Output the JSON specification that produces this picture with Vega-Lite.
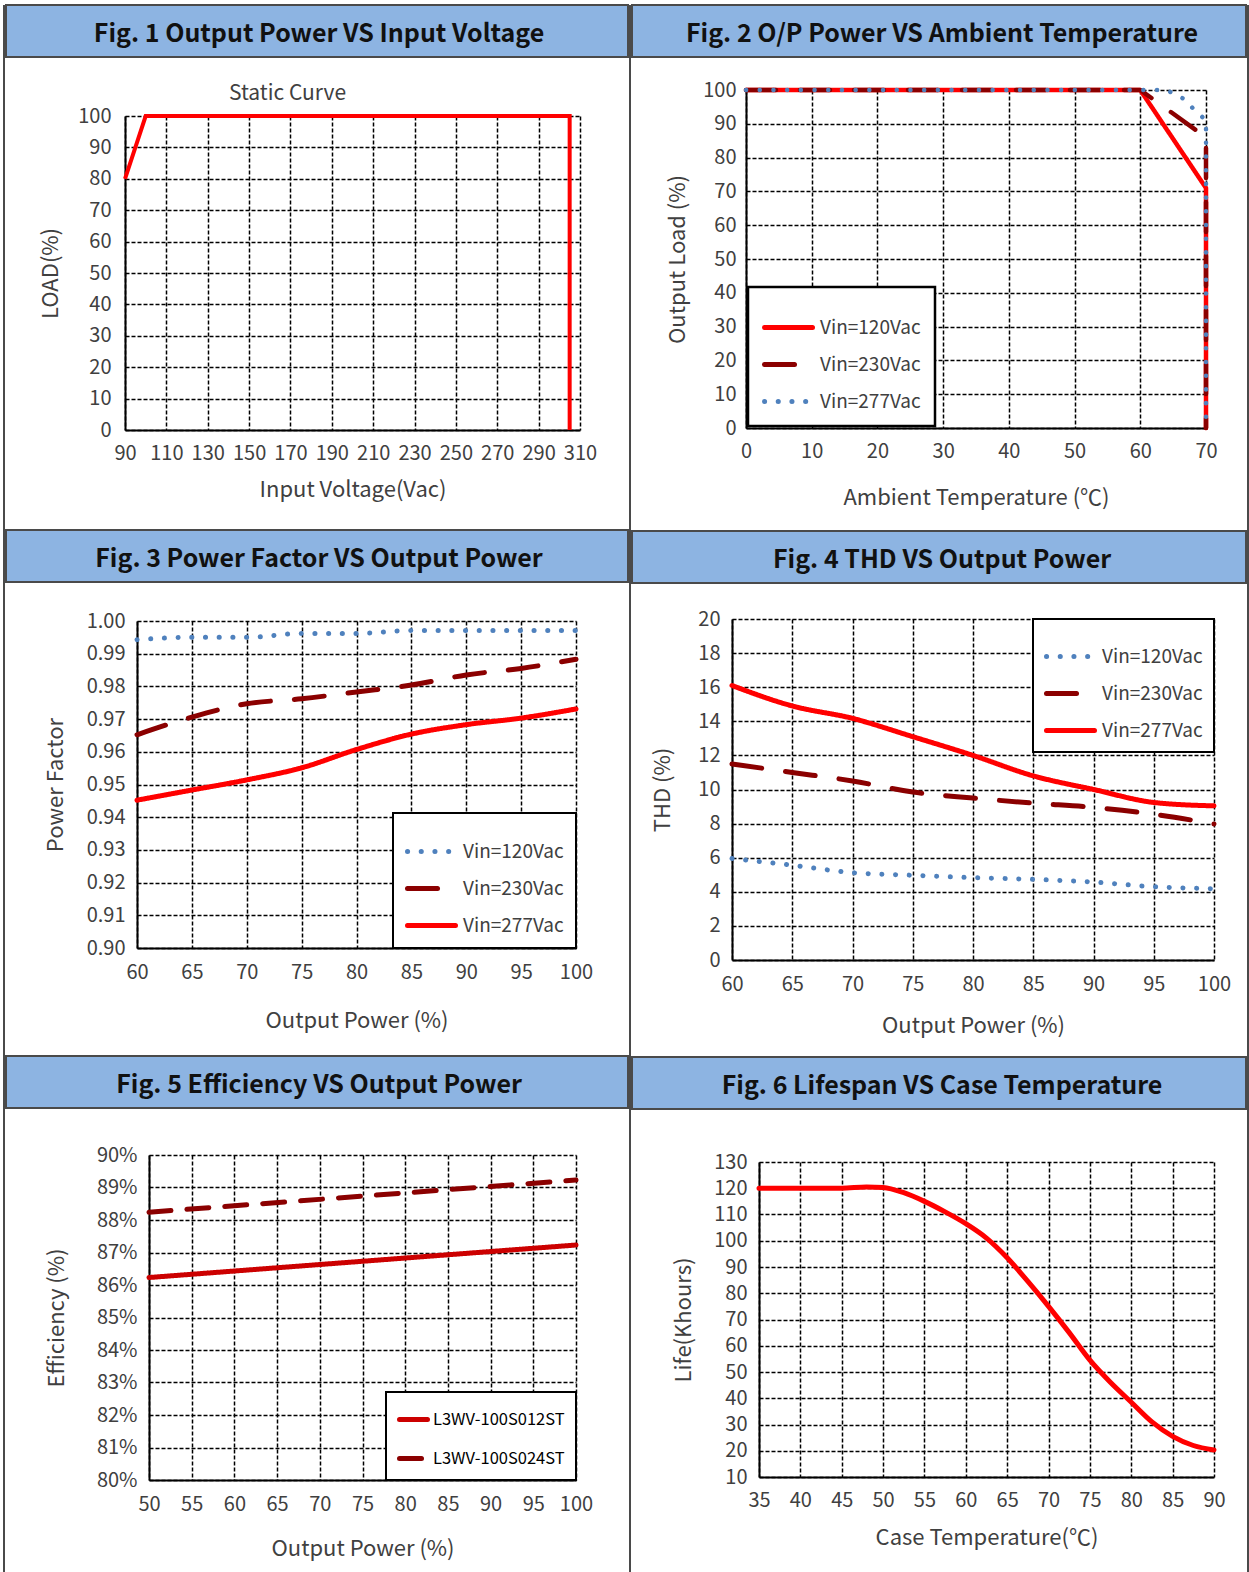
{
  "$schema": "https://vega.github.io/schema/vega-lite/v6.json",
  "background": "white",
  "padding": {"left": 3, "top": 4, "right": 0, "bottom": 0},
  "spacing": 0,
  "resolve": {"scale": {"color": "independent", "strokeDash": "independent", "x": "independent", "y": "independent"}, "legend": {"color": "independent", "strokeDash": "independent"}},
  "config": {
    "font": "Noto Sans CJK SC",
    "view": {"stroke": null},
    "axis": {
      "labelFontSize": 20, "labelColor": "#404040", "labelFont": "Noto Sans CJK SC",
      "titleFontSize": 22, "titleFontWeight": "normal", "titleColor": "#404040", "titleFont": "Noto Sans CJK SC",
      "grid": true, "gridColor": "#000000", "gridDash": [4, 2], "gridWidth": 1.5, "gridOpacity": 1,
      "domainColor": "#000000", "domainWidth": 2,
      "ticks": false, "labelPadding": 12, "labelFlush": false, "labelOverlap": false
    },
    "legend": {
      "title": null, "strokeColor": "#000000", "fillColor": "#ffffff", "padding": 14, "rowPadding": 0,
      "labelFontSize": 19, "labelColor": "#404040", "labelFont": "Noto Sans CJK SC",
      "symbolType": "stroke", "symbolSize": 2304, "symbolStrokeWidth": 5, "labelOffset": 5, "offset": 0
    },
    "title": {"color": "#404040", "fontWeight": "normal"}
  },
  "hconcat": [
    {
      "width": 2, "height": 1568,
      "data": {"values": [{}]},
      "mark": {"type": "rect", "color": "#4a4a4a"},
      "encoding": {}
    },
    {
      "concat": [
        {
          "width": 622, "height": 52,
          "view": {"fill": "#8DB4E2", "stroke": "#4a4a4a", "strokeWidth": 2},
          "data": {"values": [{"t": "Fig. 1 Output Power VS Input Voltage"}]},
          "mark": {"type": "text", "fontWeight": "bold", "fontSize": 25, "color": "#111111", "dx": 2, "dy": 3},
          "encoding": {"text": {"field": "t"}}
        },
        {
          "spacing": 32,
          "resolve": {"scale": {"color": "independent", "strokeDash": "independent", "x": "independent", "y": "independent"}, "legend": {"color": "independent", "strokeDash": "independent"}},
          "hconcat": [
            {"width": 1, "height": 1, "data": {"values": [{}]}, "mark": {"type": "rect", "opacity": 0}, "encoding": {}},
            {
              "width": 455, "height": 314,
              "title": {"text": [" ", "Static Curve"], "lineHeight": 25, "fontSize": 21, "frame": "group", "dx": -65, "offset": 2},
              "data": {"values": [
                {"i": 0, "v": 90, "l": 80}, {"i": 1, "v": 100, "l": 100}, {"i": 2, "v": 305, "l": 100}, {"i": 3, "v": 305, "l": 0}
              ]},
              "mark": {"type": "line", "color": "#FF0000", "strokeWidth": 4},
              "encoding": {
                "x": {"field": "v", "type": "quantitative", "scale": {"domain": [90, 310], "nice": false, "zero": false},
                      "axis": {"values": [90, 110, 130, 150, 170, 190, 210, 230, 250, 270, 290, 310], "title": ["Input Voltage(Vac)", " "], "titleLineHeight": 29, "titlePadding": 16, "labelPadding": 13}},
                "y": {"field": "l", "type": "quantitative", "scale": {"domain": [0, 100], "nice": false},
                      "axis": {"values": [0, 10, 20, 30, 40, 50, 60, 70, 80, 90, 100], "title": "LOAD(%)", "titlePadding": 15, "labelPadding": 14}},
                "order": {"field": "i", "type": "quantitative"}
              }
            }
          ]
        },
        {
          "width": 622, "height": 52,
          "view": {"fill": "#8DB4E2", "stroke": "#4a4a4a", "strokeWidth": 2},
          "data": {"values": [{"t": "Fig. 3 Power Factor VS Output Power"}]},
          "mark": {"type": "text", "fontWeight": "bold", "fontSize": 25, "color": "#111111", "dx": 2, "dy": 3},
          "encoding": {"text": {"field": "t"}}
        },
        {
          "spacing": 37,
          "resolve": {"scale": {"color": "independent", "strokeDash": "independent", "x": "independent", "y": "independent"}, "legend": {"color": "independent", "strokeDash": "independent"}},
          "hconcat": [
            {"width": 1, "height": 1, "data": {"values": [{}]}, "mark": {"type": "rect", "opacity": 0}, "encoding": {}},
            {
              "width": 439, "height": 327,
              "title": {"text": " ", "fontSize": 1, "offset": 27},
              "data": {"values": [
                {"s": "Vin=120Vac", "p": 60, "v": 0.9943}, {"s": "Vin=120Vac", "p": 65, "v": 0.995}, {"s": "Vin=120Vac", "p": 70, "v": 0.995}, {"s": "Vin=120Vac", "p": 75, "v": 0.9962}, {"s": "Vin=120Vac", "p": 80, "v": 0.9962}, {"s": "Vin=120Vac", "p": 85, "v": 0.9971}, {"s": "Vin=120Vac", "p": 90, "v": 0.9971}, {"s": "Vin=120Vac", "p": 95, "v": 0.9971}, {"s": "Vin=120Vac", "p": 100, "v": 0.9971},
                {"s": "Vin=230Vac", "p": 60, "v": 0.9652}, {"s": "Vin=230Vac", "p": 65, "v": 0.9706}, {"s": "Vin=230Vac", "p": 70, "v": 0.9747}, {"s": "Vin=230Vac", "p": 75, "v": 0.9762}, {"s": "Vin=230Vac", "p": 80, "v": 0.9783}, {"s": "Vin=230Vac", "p": 85, "v": 0.9804}, {"s": "Vin=230Vac", "p": 90, "v": 0.9835}, {"s": "Vin=230Vac", "p": 95, "v": 0.9855}, {"s": "Vin=230Vac", "p": 100, "v": 0.9883},
                {"s": "Vin=277Vac", "p": 60, "v": 0.9452}, {"s": "Vin=277Vac", "p": 65, "v": 0.9483}, {"s": "Vin=277Vac", "p": 70, "v": 0.9514}, {"s": "Vin=277Vac", "p": 75, "v": 0.9551}, {"s": "Vin=277Vac", "p": 80, "v": 0.9607}, {"s": "Vin=277Vac", "p": 85, "v": 0.9654}, {"s": "Vin=277Vac", "p": 90, "v": 0.9683}, {"s": "Vin=277Vac", "p": 95, "v": 0.9703}, {"s": "Vin=277Vac", "p": 100, "v": 0.9731}
              ]},
              "mark": {"type": "line", "strokeWidth": 5, "strokeCap": "round", "strokeJoin": "round", "interpolate": "monotone"},
              "encoding": {
                "x": {"field": "p", "type": "quantitative", "scale": {"domain": [60, 100], "nice": false, "zero": false},
                      "axis": {"values": [60, 65, 70, 75, 80, 85, 90, 95, 100], "title": ["Output Power (%)", " "], "titleLineHeight": 24, "titlePadding": 28, "labelPadding": 14}},
                "y": {"field": "v", "type": "quantitative", "scale": {"domain": [0.9, 1.0], "nice": false, "zero": false},
                      "axis": {"values": [0.9, 0.91, 0.92, 0.93, 0.94, 0.95, 0.96, 0.97, 0.98, 0.99, 1.0], "format": ".2f", "title": "Power Factor", "titlePadding": 19, "labelPadding": 12}},
                "color": {"field": "s", "type": "nominal", "scale": {"domain": ["Vin=120Vac", "Vin=230Vac", "Vin=277Vac"], "range": ["#4F81BD", "#8B0000", "#FF0000"]},
                          "legend": {"orient": "bottom-right", "padding": 12, "rowPadding": -1, "encode": {"symbols": {"update": {"strokeCap": {"value": "round"}}}, "legend": {"update": {"strokeWidth": {"value": 2}}}}}},
                "strokeDash": {"field": "s", "type": "nominal", "scale": {"domain": ["Vin=120Vac", "Vin=230Vac", "Vin=277Vac"], "range": [[0.1, 13.6], [30, 24], [1, 0]]}}
              }
            }
          ]
        },
        {
          "width": 622, "height": 52,
          "view": {"fill": "#8DB4E2", "stroke": "#4a4a4a", "strokeWidth": 2},
          "data": {"values": [{"t": "Fig. 5 Efficiency VS Output Power"}]},
          "mark": {"type": "text", "fontWeight": "bold", "fontSize": 25, "color": "#111111", "dx": 2, "dy": 3},
          "encoding": {"text": {"field": "t"}}
        },
        {
          "spacing": 38,
          "resolve": {"scale": {"color": "independent", "strokeDash": "independent", "x": "independent", "y": "independent"}, "legend": {"color": "independent", "strokeDash": "independent"}},
          "hconcat": [
            {"width": 1, "height": 1, "data": {"values": [{}]}, "mark": {"type": "rect", "opacity": 0}, "encoding": {}},
            {
              "width": 427, "height": 325,
              "title": {"text": " ", "fontSize": 1, "offset": 35},
              "data": {"values": [
                {"s": "L3WV-100S012ST", "p": 50, "v": 86.23}, {"s": "L3WV-100S012ST", "p": 100, "v": 87.23},
                {"s": "L3WV-100S024ST", "p": 50, "v": 88.24}, {"s": "L3WV-100S024ST", "p": 100, "v": 89.23}
              ]},
              "mark": {"type": "line", "strokeWidth": 5, "strokeCap": "round", "strokeJoin": "round"},
              "encoding": {
                "x": {"field": "p", "type": "quantitative", "scale": {"domain": [50, 100], "nice": false, "zero": false},
                      "axis": {"values": [50, 55, 60, 65, 70, 75, 80, 85, 90, 95, 100], "title": "Output Power (%)", "titlePadding": 24, "labelPadding": 14}},
                "y": {"field": "v", "type": "quantitative", "scale": {"domain": [80, 90], "nice": false, "zero": false},
                      "axis": {"values": [80, 81, 82, 83, 84, 85, 86, 87, 88, 89, 90], "labelExpr": "datum.value + '%'", "title": "Efficiency (%)", "titlePadding": 28, "labelPadding": 12}},
                "color": {"field": "s", "type": "nominal", "scale": {"domain": ["L3WV-100S012ST", "L3WV-100S024ST"], "range": ["#CC0000", "#8B0000"]},
                          "legend": {"orient": "bottom-right", "padding": 11, "rowPadding": 12, "symbolSize": 784, "labelFontSize": 16.5, "labelColor": "#000000", "labelOffset": 3,
                                     "encode": {"symbols": {"update": {"strokeCap": {"value": "round"}}}, "legend": {"update": {"strokeWidth": {"value": 2}}}}}},
                "strokeDash": {"field": "s", "type": "nominal", "scale": {"domain": ["L3WV-100S012ST", "L3WV-100S024ST"], "range": [[1, 0], [22, 16]]}}
              }
            }
          ]
        }
      ],
      "columns": 1,
      "spacing": 0,
      "resolve": {"scale": {"color": "independent", "strokeDash": "independent", "x": "independent", "y": "independent"}, "legend": {"color": "independent", "strokeDash": "independent"}}
    },
    {
      "width": 2, "height": 1568,
      "data": {"values": [{}]},
      "mark": {"type": "rect", "color": "#4a4a4a"},
      "encoding": {}
    },
    {
      "concat": [
        {
          "width": 614, "height": 52,
          "view": {"fill": "#8DB4E2", "stroke": "#4a4a4a", "strokeWidth": 2},
          "data": {"values": [{"t": "Fig. 2 O/P Power VS Ambient Temperature"}]},
          "mark": {"type": "text", "fontWeight": "bold", "fontSize": 25, "color": "#111111", "dx": 3, "dy": 3},
          "encoding": {"text": {"field": "t"}}
        },
        {
          "spacing": 33,
          "resolve": {"scale": {"color": "independent", "strokeDash": "independent", "x": "independent", "y": "independent"}, "legend": {"color": "independent", "strokeDash": "independent"}},
          "hconcat": [
            {"width": 1, "height": 1, "data": {"values": [{}]}, "mark": {"type": "rect", "opacity": 0}, "encoding": {}},
            {
              "width": 460, "height": 338,
              "title": {"text": " ", "fontSize": 1, "offset": 21},
              "data": {"values": [
                {"s": "Vin=120Vac", "i": 0, "t": 0, "l": 100}, {"s": "Vin=120Vac", "i": 1, "t": 60, "l": 100}, {"s": "Vin=120Vac", "i": 2, "t": 70, "l": 71}, {"s": "Vin=120Vac", "i": 3, "t": 70, "l": 0},
                {"s": "Vin=230Vac", "i": 0, "t": 0, "l": 100}, {"s": "Vin=230Vac", "i": 1, "t": 60, "l": 100}, {"s": "Vin=230Vac", "i": 2, "t": 70, "l": 86}, {"s": "Vin=230Vac", "i": 3, "t": 70, "l": 0},
                {"s": "Vin=277Vac", "i": 0, "t": 0, "l": 100}, {"s": "Vin=277Vac", "i": 1, "t": 64, "l": 100}, {"s": "Vin=277Vac", "i": 2, "t": 66.5, "l": 97.5}, {"s": "Vin=277Vac", "i": 3, "t": 68, "l": 94.6}, {"s": "Vin=277Vac", "i": 4, "t": 70, "l": 91}, {"s": "Vin=277Vac", "i": 5, "t": 70, "l": 0}
              ]},
              "mark": {"type": "line", "strokeWidth": 4.5, "strokeCap": "round", "strokeJoin": "round"},
              "encoding": {
                "x": {"field": "t", "type": "quantitative", "scale": {"domain": [0, 70], "nice": false},
                      "axis": {"values": [0, 10, 20, 30, 40, 50, 60, 70], "title": ["Ambient Temperature (℃)", " "], "titleLineHeight": 22, "titlePadding": 26, "labelPadding": 13}},
                "y": {"field": "l", "type": "quantitative", "scale": {"domain": [0, 100], "nice": false},
                      "axis": {"values": [0, 10, 20, 30, 40, 50, 60, 70, 80, 90, 100], "title": "Output  Load (%)", "titlePadding": 13, "labelPadding": 10}},
                "color": {"field": "s", "type": "nominal", "scale": {"domain": ["Vin=120Vac", "Vin=230Vac", "Vin=277Vac"], "range": ["#FF0000", "#8B0000", "#4F81BD"]},
                          "legend": {"orient": "bottom-left", "offset": 2, "encode": {"symbols": {"update": {"strokeCap": {"value": "round"}}}, "legend": {"update": {"strokeWidth": {"value": 2.5}}}}}},
                "strokeDash": {"field": "s", "type": "nominal", "scale": {"domain": ["Vin=120Vac", "Vin=230Vac", "Vin=277Vac"], "range": [[1, 0], [30, 24], [0.1, 13.6]]}},
                "order": {"field": "i", "type": "quantitative"}
              }
            }
          ]
        },
        {
          "width": 614, "height": 52,
          "view": {"fill": "#8DB4E2", "stroke": "#4a4a4a", "strokeWidth": 2},
          "data": {"values": [{"t": "Fig. 4 THD VS Output Power"}]},
          "mark": {"type": "text", "fontWeight": "bold", "fontSize": 25, "color": "#111111", "dx": 3, "dy": 3},
          "encoding": {"text": {"field": "t"}}
        },
        {
          "spacing": 18,
          "resolve": {"scale": {"color": "independent", "strokeDash": "independent", "x": "independent", "y": "independent"}, "legend": {"color": "independent", "strokeDash": "independent"}},
          "hconcat": [
            {"width": 1, "height": 1, "data": {"values": [{}]}, "mark": {"type": "rect", "opacity": 0}, "encoding": {}},
            {
              "width": 482, "height": 341,
              "title": {"text": " ", "fontSize": 1, "offset": 24},
              "data": {"values": [
                {"s": "Vin=120Vac", "p": 60, "v": 5.95}, {"s": "Vin=120Vac", "p": 65, "v": 5.56}, {"s": "Vin=120Vac", "p": 70, "v": 5.12}, {"s": "Vin=120Vac", "p": 75, "v": 4.97}, {"s": "Vin=120Vac", "p": 80, "v": 4.83}, {"s": "Vin=120Vac", "p": 85, "v": 4.73}, {"s": "Vin=120Vac", "p": 90, "v": 4.57}, {"s": "Vin=120Vac", "p": 95, "v": 4.3}, {"s": "Vin=120Vac", "p": 100, "v": 4.18},
                {"s": "Vin=230Vac", "p": 60, "v": 11.5}, {"s": "Vin=230Vac", "p": 65, "v": 11.0}, {"s": "Vin=230Vac", "p": 70, "v": 10.5}, {"s": "Vin=230Vac", "p": 75, "v": 9.85}, {"s": "Vin=230Vac", "p": 80, "v": 9.5}, {"s": "Vin=230Vac", "p": 85, "v": 9.2}, {"s": "Vin=230Vac", "p": 90, "v": 8.95}, {"s": "Vin=230Vac", "p": 95, "v": 8.55}, {"s": "Vin=230Vac", "p": 100, "v": 7.98},
                {"s": "Vin=277Vac", "p": 60, "v": 16.1}, {"s": "Vin=277Vac", "p": 65, "v": 14.9}, {"s": "Vin=277Vac", "p": 70, "v": 14.17}, {"s": "Vin=277Vac", "p": 75, "v": 13.1}, {"s": "Vin=277Vac", "p": 80, "v": 12.0}, {"s": "Vin=277Vac", "p": 85, "v": 10.8}, {"s": "Vin=277Vac", "p": 90, "v": 10.0}, {"s": "Vin=277Vac", "p": 95, "v": 9.24}, {"s": "Vin=277Vac", "p": 100, "v": 9.04}
              ]},
              "mark": {"type": "line", "strokeWidth": 5, "strokeCap": "round", "strokeJoin": "round", "interpolate": "monotone"},
              "encoding": {
                "x": {"field": "p", "type": "quantitative", "scale": {"domain": [60, 100], "nice": false, "zero": false},
                      "axis": {"values": [60, 65, 70, 75, 80, 85, 90, 95, 100], "title": ["Output Power (%)", " "], "titleLineHeight": 20, "titlePadding": 21, "labelPadding": 14}},
                "y": {"field": "v", "type": "quantitative", "scale": {"domain": [0, 20], "nice": false},
                      "axis": {"values": [0, 2, 4, 6, 8, 10, 12, 14, 16, 18, 20], "title": "THD (%)", "titlePadding": 23, "labelPadding": 12}},
                "color": {"field": "s", "type": "nominal", "scale": {"domain": ["Vin=120Vac", "Vin=230Vac", "Vin=277Vac"], "range": ["#4F81BD", "#8B0000", "#FF0000"]},
                          "legend": {"orient": "top-right", "padding": 11, "rowPadding": -3, "encode": {"symbols": {"update": {"strokeCap": {"value": "round"}}}, "legend": {"update": {"strokeWidth": {"value": 2}}}}}},
                "strokeDash": {"field": "s", "type": "nominal", "scale": {"domain": ["Vin=120Vac", "Vin=230Vac", "Vin=277Vac"], "range": [[0.1, 13.6], [30, 24], [1, 0]]}}
              }
            }
          ]
        },
        {
          "width": 614, "height": 52,
          "view": {"fill": "#8DB4E2", "stroke": "#4a4a4a", "strokeWidth": 2},
          "data": {"values": [{"t": "Fig. 6 Lifespan VS Case Temperature"}]},
          "mark": {"type": "text", "fontWeight": "bold", "fontSize": 25, "color": "#111111", "dx": 3, "dy": 3},
          "encoding": {"text": {"field": "t"}}
        },
        {
          "spacing": 39,
          "resolve": {"scale": {"color": "independent", "strokeDash": "independent", "x": "independent", "y": "independent"}, "legend": {"color": "independent", "strokeDash": "independent"}},
          "hconcat": [
            {"width": 1, "height": 1, "data": {"values": [{}]}, "mark": {"type": "rect", "opacity": 0}, "encoding": {}},
            {
              "width": 455, "height": 315,
              "title": {"text": " ", "fontSize": 1, "offset": 41},
              "data": {"values": [
                {"t": 35, "v": 120}, {"t": 40, "v": 120}, {"t": 45, "v": 120}, {"t": 48, "v": 120.5}, {"t": 50, "v": 120.3},
                {"t": 52.5, "v": 118.3}, {"t": 55, "v": 115}, {"t": 57.5, "v": 111}, {"t": 60, "v": 106.5}, {"t": 62.5, "v": 101},
                {"t": 65, "v": 93.5}, {"t": 67.5, "v": 84.5}, {"t": 70, "v": 75}, {"t": 72.5, "v": 65}, {"t": 75, "v": 54.5},
                {"t": 77.5, "v": 46}, {"t": 80, "v": 38.5}, {"t": 82.5, "v": 31}, {"t": 85, "v": 25.5}, {"t": 87.5, "v": 22}, {"t": 90, "v": 20.3}
              ]},
              "mark": {"type": "line", "color": "#FF0000", "strokeWidth": 5, "strokeCap": "round", "interpolate": "monotone"},
              "encoding": {
                "x": {"field": "t", "type": "quantitative", "scale": {"domain": [35, 90], "nice": false, "zero": false},
                      "axis": {"values": [35, 40, 45, 50, 55, 60, 65, 70, 75, 80, 85, 90], "title": "Case Temperature(℃)", "titlePadding": 17, "labelPadding": 13}},
                "y": {"field": "v", "type": "quantitative", "scale": {"domain": [10, 130], "nice": false, "zero": false},
                      "axis": {"values": [10, 20, 30, 40, 50, 60, 70, 80, 90, 100, 110, 120, 130], "title": "Life(Khours)", "titlePadding": 18, "labelPadding": 12}}
              }
            }
          ]
        }
      ],
      "columns": 1,
      "spacing": 0,
      "resolve": {"scale": {"color": "independent", "strokeDash": "independent", "x": "independent", "y": "independent"}, "legend": {"color": "independent", "strokeDash": "independent"}}
    },
    {
      "width": 2, "height": 1568,
      "data": {"values": [{}]},
      "mark": {"type": "rect", "color": "#4a4a4a"},
      "encoding": {}
    }
  ]
}
